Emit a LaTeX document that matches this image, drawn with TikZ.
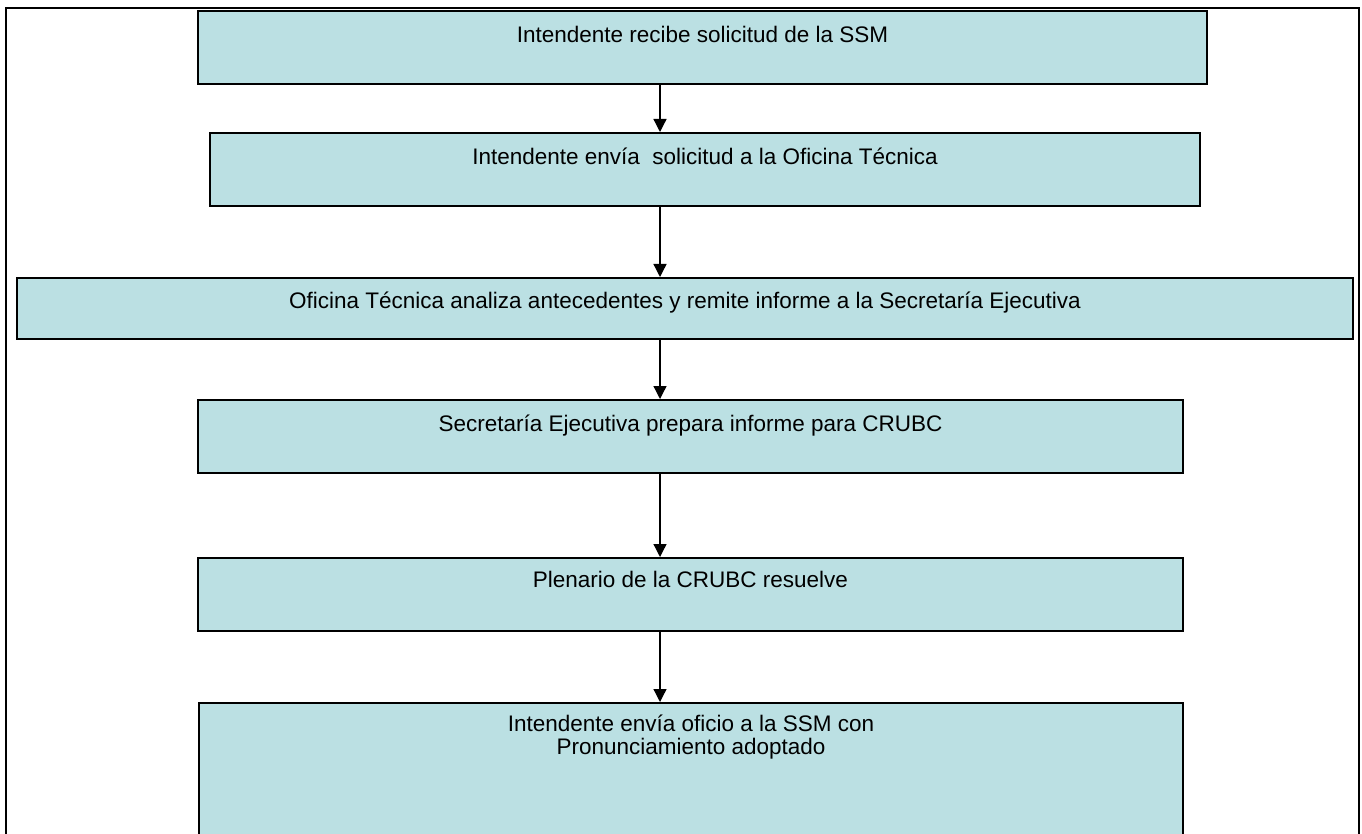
\documentclass[tikz,border=0pt]{standalone}
\usepackage{fontspec}
\setmainfont{Liberation Sans}
\usetikzlibrary{positioning,arrows.meta}
\definecolor{boxfill}{RGB}{187,224,227}

\begin{document}
\begin{tikzpicture}[x=1pt,y=-1pt,
stepbox/.style={draw,line width=2pt,fill=boxfill,rectangle,inner sep=0pt},
steptext/.style={font=\fontsize{22.5}{23}\selectfont,align=center,inner sep=0pt},
flow/.style={line width=1.3pt,-{Triangle[width=13pt,length=13pt]}}]
\useasboundingbox (0,0) rectangle (1362,834);
\clip (0,0) rectangle (1362,834);
\draw[line width=2.5pt] (6,8) rectangle (1359,900);
\coordinate (ax) at (660,0);
% the six steps
\node (recibe) [stepbox,minimum width=1009pt,minimum height=73pt] at (702.5,47.5) {};
\node (envia) [stepbox,minimum width=990pt,minimum height=73pt] at (705,169.5) {};
\node (analiza) [stepbox,minimum width=1336pt,minimum height=61pt] at (685,308.5) {};
\node (prepara) [stepbox,minimum width=985pt,minimum height=73pt] at (690.5,436.5) {};
\node (resuelve) [stepbox,minimum width=985pt,minimum height=73pt] at (690.5,594.5) {};
\node (oficio) [stepbox,minimum width=984pt,minimum height=180pt] at (691,793) {};
\node [steptext,anchor=base] at ([yshift=-33pt]recibe.north) {Intendente recibe solicitud de la SSM};
\node [steptext,anchor=base] at ([yshift=-33pt]envia.north) {Intendente envía \ solicitud a la Oficina Técnica};
\node [steptext,anchor=base] at ([yshift=-31pt]analiza.north) {Oficina Técnica analiza antecedentes y remite informe a la Secretaría Ejecutiva};
\node [steptext,anchor=base] at ([yshift=-32pt]prepara.north) {Secretaría Ejecutiva prepara informe para CRUBC};
\node [steptext,anchor=base] at ([yshift=-30pt]resuelve.north) {Plenario de la CRUBC resuelve};
\node [steptext,anchor=north] at ([yshift=-13pt]oficio.north) {Intendente envía oficio a la SSM con\\Pronunciamiento adoptado};
% arrows
\draw[flow] (recibe.south -| ax) -- (envia.north -| ax);
\draw[flow] (envia.south -| ax) -- (analiza.north -| ax);
\draw[flow] (analiza.south -| ax) -- (prepara.north -| ax);
\draw[flow] (prepara.south -| ax) -- (resuelve.north -| ax);
\draw[flow] (resuelve.south -| ax) -- (oficio.north -| ax);
\end{tikzpicture}
\end{document}
